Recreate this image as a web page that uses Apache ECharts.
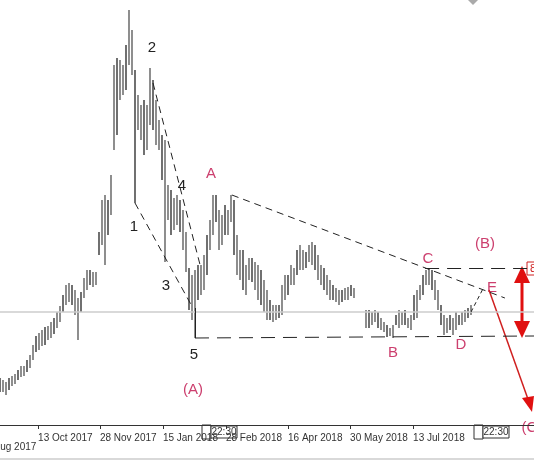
<!DOCTYPE html>
<html>
  <head>
    <meta charset="utf-8" />
    <title>Elliott wave chart</title>
    <script src="https://cdn.jsdelivr.net/npm/echarts@6.0.0/dist/echarts.min.js"></script>
    <style>
      body { margin: 0; background: #fff; }
    </style>
  </head>

  <body>
    <div id="main" style="width: 534px; height: 462px"></div>

    <script>
      // bar highs and lows, one bar per index (~2 days), null = gap
      var highs = [
        2350, 2250, 2150, 2350, 2450, 2550, 2750, 2950, 2950, 3250,
        3500, 4000, 4450, 4600, 4750, 4900, 4950, 5150, 5350, 5650,
        5950, 6500, 7000, 7100, 7000, 6750, 6350, 6650, 7350, 7750,
        7750, 7650, 7650, 9650, 11250, 11500, 11250, 12500, 18000, 18350,
        18250, 18000, 19000, 20750, 19750, 17750, 16500, 16000, 16250, 16000,
        17850, 17250, 16250, 15250, 14500, 14250, 12000, 11750, 11350, 11500,
        11250, 10750, 9650, 7850, 7500, 7750, 8000, 8000, 8500, 9500,
        10250, 11500, 11500, 10750, 10500, 11000, 10750, 11500, 11250, 9500,
        8750, 8750, 8000, 8350, 8350, 8150, 8000, 7750, 7250, 6750,
        6250, 6000, 6000, 6000, 7000, 7500, 7500, 8000, 7850, 8750,
        9000, 8750, 8650, 9000, 9150, 9000, 8500, 8000, 7850, 7500,
        7250, 7000, 6850, 6750, 6750, 6850, 6900, 7000, 6850, null,
        null, null, 5750, 5750, 5650, 5750, 5650, 5350, 5150, 5000,
        4850, 5000, 5500, 5750, 5650, 5750, 5350, 5500, 6500, 6750,
        7000, 7500, 7750, 7850, 7750, 7250, 6750, 6000, 5500, 5350,
        5500, 5350, 5650, 5500, 5650, 5750, 5850, 6000
      ];
      var lows = [
        1650, 1650, 1500, 1750, 1950, 2050, 2250, 2400, 2450, 2650,
        2850, 3250, 3650, 3750, 3950, 4000, 4250, 4350, 4550, 4850,
        5150, 5650, 6000, 6150, 6000, 5500, 4250, 5650, 6350, 6750,
        7000, 6900, 7000, 8500, 9000, 8000, 9500, 10500, 13750, 14500,
        16250, 16500, 16750, 18000, 17500, 11100, 14750, 14250, 13500, 13750,
        15000, 14750, 14000, 13750, 12250, 8150, 10250, 9500, 9750, 10000,
        9650, 8750, 7650, 5750, 5250, 4350, 6250, 6500, 6750, 7500,
        8750, 9500, 10150, 8750, 9000, 9500, 9500, 10150, 8500, 7500,
        7250, 6750, 6500, 7250, 7150, 6750, 6250, 6000, 5650, 5250,
        5250, 5150, 5250, 5350, 5500, 6250, 6500, 7000, 7000, 7500,
        7750, 7750, 7850, 8150, 8000, 7750, 7250, 7000, 6750, 6500,
        6250, 6250, 6150, 6000, 6150, 6250, 6250, 6450, 6350, null,
        null, null, 4850, 4850, 5000, 5150, 4850, 4750, 4650, 4400,
        4450, 4350, 5000, 4850, 5000, 5000, 4850, 4750, 5250, 5350,
        6250, 6500, 7000, 7000, 6750, 6250, 5750, 5000, 4500, 4600,
        4750, 4500, 4750, 5000, 5000, 5150, 5350, 5500
      ];
      // date ticks, positions in bar-index units
      var tickPos = [12.7, 33.3, 54.3, 75.3, 96, 116.7, 137.7];
      var tickLabels = ["13 Oct 2017", "28 Nov 2017", "15 Jan 2018", "28 Feb 2018",
                        "16 Apr 2018", "30 May 2018", "13 Jul 2018"];

      var bars = highs.map(function (h, i) {
        return h == null ? [i, "-", "-"] : [i, h, lows[i]];
      });

      var pink = "#cc3f6e";
      function txt(x, y, s, color, size) {
        return {
          type: "text", x: x, y: y,
          style: { text: s, fill: color || "#222", font: (size || 15) + "px Arial", textAlign: "center" },
        };
      }

      var option = {
        animation: false,
        grid: { left: 0, right: 0, top: 0, bottom: 37 },
        xAxis: {
          type: "value", min: 0, max: 178,
          splitLine: { show: false },
          axisLine: { lineStyle: { color: "#333" } },
          axisTick: { show: true, inside: false, length: 4, customValues: tickPos, lineStyle: { color: "#333" } },
          axisLabel: {
            customValues: tickPos, align: "left", margin: 8, fontSize: 10,
            fontFamily: "Arial", color: "#333",
            formatter: function (v) {
              var k = tickPos.indexOf(v);
              return k >= 0 ? tickLabels[k] : "";
            },
          },
        },
        yAxis: { type: "value", min: 0, max: 21250, show: false },
        series: [
          {
            type: "custom",
            data: bars,
            renderItem: function (params, api) {
              if (isNaN(api.value(1))) return;
              var a = api.coord([api.value(0), api.value(1)]);
              var b = api.coord([api.value(0), api.value(2)]);
              return {
                type: "line",
                shape: { x1: a[0], y1: a[1], x2: b[0], y2: b[1] },
                style: { stroke: params.dataIndex % 3 ? "#444" : "#111", lineWidth: 1.2 },
              };
            },
            markLine: {
              silent: true, symbol: "none",
              label: { show: false },
              lineStyle: { color: "#222", type: [7, 5], width: 1 },
              data: [
                [{ coord: [0, 5650], lineStyle: { color: "#ccc", type: "solid", width: 1.5 } }, { coord: [178, 5650] }],
                [{ coord: [45, 11100] }, { coord: [64.3, 5850] }],
                [{ coord: [51, 17100] }, { coord: [66.7, 8000] }],
                [{ coord: [77.3, 11500] }, { coord: [168.3, 6350] }],
                [{ coord: [65, 5850], lineStyle: { type: "solid" } }, { coord: [65, 4350] }],
                [{ coord: [65, 4350], lineStyle: { type: [14, 8] } }, { coord: [178, 4450] }],
                [{ coord: [141.7, 7850], lineStyle: { type: [14, 8] } }, { coord: [178, 7850] }],
                [{ coord: [157, 5650], lineStyle: { type: [4, 3] } }, { coord: [161.3, 6900] }],
              ],
            },
            z: 2,
          },
        ],
        graphic: [
          txt(-22 + 30, 442, "29 Aug 2017", "#333", 10),
          txt(152, 40, "2"), txt(134, 219, "1"), txt(166, 278, "3"),
          txt(182, 178, "4"), txt(194, 347, "5"),
          txt(211, 166, "A", pink), txt(193, 382, "(A)", pink),
          txt(393, 345, "B", pink), txt(428, 251, "C", pink),
          txt(461, 337, "D", pink), txt(492, 280, "E", pink),
          txt(485, 236, "(B)", pink), txt(532, 420, "(C)", pink),
          // red arrows
          { type: "line", shape: { x1: 522, y1: 272, x2: 522, y2: 332 }, style: { stroke: "#e01010", lineWidth: 3 } },
          { type: "polygon", shape: { points: [[522, 266], [514, 283], [530, 283]] }, style: { fill: "#e01010" } },
          { type: "polygon", shape: { points: [[522, 338], [514, 321], [530, 321]] }, style: { fill: "#e01010" } },
          { type: "line", shape: { x1: 489, y1: 290, x2: 529, y2: 402 }, style: { stroke: "#d02020", lineWidth: 1.5 } },
          { type: "polygon", shape: { points: [[532, 412], [522, 398], [534, 396]] }, style: { fill: "#e01010" } },
          { type: "rect", shape: { x: 527, y: 262, width: 14, height: 13 }, style: { fill: "#fff", stroke: "#d02020" } },
          txt(533, 263, "8", "#d02020", 11),
          // time boxes
          { type: "rect", shape: { x: 202, y: 425, width: 9, height: 14 }, style: { fill: "#fff", stroke: "#333" } },
          { type: "rect", shape: { x: 211, y: 426, width: 26, height: 12 }, style: { fill: "#fff", stroke: "#333" } },
          txt(224, 427, "22:30", "#333", 10),
          { type: "rect", shape: { x: 474, y: 425, width: 9, height: 14 }, style: { fill: "#fff", stroke: "#333" } },
          { type: "rect", shape: { x: 483, y: 426, width: 26, height: 12 }, style: { fill: "#fff", stroke: "#333" } },
          txt(496, 427, "22:30", "#333", 10),
          { type: "polygon", shape: { points: [[468, 0], [478, 0], [473, 5]] }, style: { fill: "#aaa" } },
          { type: "line", shape: { x1: 0, y1: 459, x2: 534, y2: 459 }, style: { stroke: "#ccc", lineWidth: 1.5 } },
        ],
      };

      var myChart = echarts.init(document.getElementById("main"));
      myChart.setOption(option);
    </script>
  </body>
</html>
